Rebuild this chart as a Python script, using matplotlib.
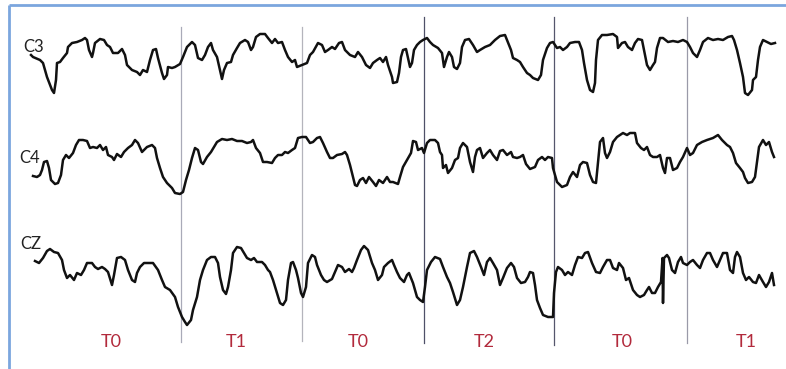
import numpy as np
import matplotlib
matplotlib.use('Agg')
import matplotlib.pyplot as plt

# --- EEG channel traces (time in samples, amplitude in uV, positive up) ---
c3_t = [31, 33, 40, 43, 47, 52, 54, 56, 57, 60, 63, 67, 68, 72, 77, 82, 85, 87, 89, 92,
        93, 95, 100, 104, 107, 110, 113, 118, 122, 125, 127, 132, 137, 140, 143, 147, 150, 153, 156, 158,
        162, 164, 167, 168, 172, 175, 180, 183, 187, 192, 195, 198, 202, 205, 208, 211, 213, 217, 220, 222,
        224, 227, 231, 233, 237, 240, 245, 248, 251, 253, 256, 260, 265, 268, 272, 275, 278, 282, 285, 288,
        292, 295, 297, 302, 307, 310, 313, 318, 322, 325, 328, 332, 335, 339, 342, 345, 350, 355, 358, 362,
        366, 370, 373, 377, 380, 383, 386, 388, 392, 393, 397, 399, 401, 403, 406, 408, 410, 412, 414, 417,
        420, 423, 427, 430, 433, 438, 442, 444, 447, 449, 452, 454, 457, 460, 462, 465, 469, 473, 477, 480,
        485, 490, 495, 500, 505, 507, 511, 513, 517, 520, 523, 527, 530, 533, 538, 541, 543, 547, 550, 553,
        557, 560, 563, 567, 570, 575, 579, 582, 584, 587, 590, 593, 595, 596, 598, 602, 607, 613, 617, 618,
        622, 625, 628, 632, 635, 638, 642, 644, 647, 650, 653, 655, 657, 660, 663, 668, 673, 678, 683, 687,
        690, 693, 697, 700, 703, 708, 713, 718, 723, 728, 732, 734, 737, 740, 743, 745, 748, 752, 753, 756,
        758, 760, 763, 767, 771, 775]
c3_v = [5, 3, 0, -3, -17, -30, -33, -20, -3, -2, 2, 7, 13, 17, 18, 20, 22, 20, 10, 3,
        7, 17, 21, 20, 15, 13, 7, 7, 11, 5, -5, -10, -12, -15, -10, -12, 0, 10, 11, 2,
        -13, -19, -15, -7, -8, -7, -4, 3, 13, 18, 15, 2, 0, 5, 13, 17, 10, 3, -10, -19,
        -10, -3, -2, 5, 12, 17, 20, 18, 10, 13, 23, 26, 26, 22, 17, 21, 17, 18, 10, 3,
        -2, 0, -7, -5, -3, 5, 8, 17, 15, 8, 10, 13, 11, 17, 18, 10, 5, 3, 8, 3,
        -5, -8, -3, 0, 2, -2, 3, -5, -17, -23, -22, -13, 3, 10, 11, 2, -7, -3, 10, 15,
        18, 20, 22, 18, 15, 12, 7, -7, 3, 8, 3, -7, -9, -3, 13, 20, 21, 15, 8, 10,
        13, 15, 20, 24, 25, 20, 10, 2, 0, -2, -7, -13, -15, -18, -20, -15, 0, 12, 17, 18,
        12, 13, 10, 13, 17, 18, 18, 10, -3, -20, -30, -32, -23, 0, 20, 25, 25, 26, 23, 12,
        17, 18, 13, 10, 17, 21, 20, 10, -5, -10, -5, -2, 12, 22, 22, 18, 19, 18, 20, 18,
        13, 7, 3, 10, 18, 22, 20, 21, 20, 23, 24, 20, 10, -3, -17, -33, -35, -30, -20, -17,
        0, 13, 20, 18, 16, 17]

c4_t = [33, 37, 40, 42, 44, 47, 49, 51, 55, 58, 61, 63, 66, 69, 73, 76, 79, 83, 87, 90,
        93, 97, 100, 103, 106, 108, 112, 114, 117, 121, 124, 128, 132, 135, 138, 142, 147, 152, 155, 157,
        160, 163, 167, 172, 175, 180, 183, 186, 189, 192, 195, 198, 201, 203, 207, 211, 214, 217, 222, 227,
        232, 237, 242, 247, 251, 253, 256, 260, 263, 267, 272, 275, 278, 282, 285, 288, 292, 295, 298, 302,
        306, 310, 313, 317, 320, 323, 327, 330, 333, 337, 342, 345, 347, 350, 353, 355, 357, 360, 363, 366,
        369, 373, 376, 379, 383, 387, 390, 393, 398, 400, 403, 407, 411, 413, 416, 418, 422, 424, 427, 430,
        435, 438, 440, 442, 443, 446, 448, 452, 455, 458, 460, 463, 467, 470, 473, 475, 477, 480, 483, 487,
        490, 493, 497, 500, 503, 507, 511, 513, 517, 520, 523, 526, 530, 535, 538, 542, 545, 548, 552, 553,
        557, 562, 567, 570, 573, 577, 580, 583, 587, 590, 593, 596, 598, 600, 603, 605, 607, 610, 613, 617,
        620, 623, 627, 630, 635, 637, 641, 644, 647, 650, 653, 657, 660, 663, 665, 667, 670, 673, 677, 680,
        683, 687, 690, 693, 697, 702, 707, 713, 718, 722, 727, 730, 733, 736, 740, 743, 745, 748, 752, 755,
        757, 759, 763, 766, 769, 772, 774]
c4_v = [-16, -17, -15, -10, -2, -1, -8, -20, -24, -23, -15, 0, 5, 2, 7, 15, 20, 20, 19, 12,
        13, 12, 15, 10, 13, 5, 3, 0, 6, 3, 8, 12, 15, 20, 17, 8, 13, 15, 12, 2,
        -8, -17, -23, -28, -33, -34, -32, -20, -10, 2, 12, 10, -2, -4, 3, 8, 13, 18, 21, 20,
        21, 19, 19, 17, 18, 20, 12, 7, -2, -2, -3, 2, 5, 5, 8, 7, 10, 12, 22, 23,
        23, 17, 18, 22, 23, 17, 8, 2, 2, 5, 6, 8, 5, -5, -17, -25, -26, -20, -18, -23,
        -17, -22, -26, -20, -23, -17, -22, -22, -24, -17, -7, 0, 7, 19, 18, 10, 12, 7, 17, 20,
        20, 17, 8, 5, -8, -5, -13, -8, 0, 2, 12, 17, 13, -2, -12, 3, 10, 12, 2, 7,
        10, 5, 0, 9, 10, 5, 8, 3, 2, 3, 5, -4, -9, -7, 0, 3, 0, 3, 2, -8,
        -22, -27, -25, -17, -12, -17, -5, -2, -3, -15, -22, -23, -3, 18, 22, 7, 2, 8, 18, 23,
        25, 27, 25, 27, 27, 17, 12, 10, 13, 5, 3, 3, 5, -8, -13, 2, 2, -10, -8, -2,
        3, 12, 5, 7, 15, 18, 20, 22, 25, 20, 15, 13, 7, -3, -8, -12, -18, -23, -22, -17,
        -2, 13, 20, 15, 18, 8, 3]

cz_t = [35, 39, 43, 47, 50, 54, 58, 62, 64, 67, 70, 74, 77, 81, 84, 87, 92, 95, 98, 102,
        105, 108, 112, 114, 117, 121, 125, 128, 132, 135, 137, 140, 144, 148, 153, 158, 162, 165, 170, 175,
        178, 182, 185, 187, 191, 193, 197, 200, 203, 207, 211, 215, 218, 220, 223, 226, 228, 231, 233, 237,
        241, 244, 247, 251, 254, 257, 262, 265, 268, 270, 273, 277, 280, 283, 286, 288, 291, 293, 296, 298,
        301, 303, 306, 308, 312, 315, 317, 321, 324, 327, 332, 335, 338, 342, 345, 349, 352, 354, 357, 361,
        364, 368, 372, 375, 378, 382, 384, 388, 392, 394, 397, 400, 404, 407, 409, 413, 417, 420, 423, 425,
        427, 431, 435, 440, 443, 447, 450, 453, 457, 460, 463, 467, 470, 474, 477, 481, 484, 487, 490, 493,
        497, 500, 503, 507, 511, 514, 517, 521, 525, 528, 530, 533, 535, 537, 540, 543, 548, 553, 554, 556,
        558, 562, 565, 568, 572, 575, 578, 582, 585, 588, 592, 596, 600, 603, 607, 610, 613, 617, 619, 623,
        626, 629, 633, 637, 640, 644, 647, 649, 652, 655, 658, 661, 662.5, 663, 664, 667, 669, 672, 675, 678,
        681, 683, 687, 690, 693, 697, 700, 703, 707, 710, 713, 717, 720, 723, 727, 730, 733, 735, 737, 740,
        743, 746, 749, 753, 756, 759, 763, 766, 769, 772, 774]
cz_v = [9, 7, 12, 19, 21, 18, 17, 10, 0, -8, -5, -10, -3, -5, 0, 7, 7, 3, 1, 3,
        1, -2, -15, -5, 12, 13, 10, 0, -10, -12, -3, 3, 7, 7, 7, 0, -10, -17, -20, -27,
        -37, -47, -52, -55, -50, -40, -27, -10, 0, 10, 13, 13, 7, -7, -20, -24, -17, 0, 17, 23,
        22, 17, 12, 10, 12, 8, 8, 5, 0, -2, -10, -23, -33, -35, -30, -10, 7, 8, 0, -8,
        -23, -27, -17, 7, 15, 13, 5, -5, -10, -12, -9, -2, 5, 3, -2, 1, -2, 2, 10, 20,
        24, 20, 7, 0, -10, -5, 3, 7, 10, 5, -2, -8, -12, -5, -3, -13, -27, -30, -32, -17,
        0, 8, 13, 11, 3, -7, -13, -22, -35, -30, -17, 3, 17, 19, 13, 3, -5, 8, 12, 7,
        0, -15, -8, 2, 7, 3, -8, -13, -12, -7, -2, -3, -15, -30, -38, -45, -47, -47, -23, -2,
        3, 0, -5, -2, -5, 5, 13, 12, 17, 18, 7, -2, -3, 3, 10, 10, 2, 0, 7, 2,
        -10, -8, -20, -25, -27, -25, -20, -17, -23, -23, -17, -12, 12, -33, 12, 15, 12, 0, -3, 8,
        13, 7, 5, 8, 10, 5, 2, 10, 17, 17, 10, 3, 10, 17, 17, 0, -3, 13, 18, 13,
        -3, -10, -7, -12, -13, -5, -12, -17, -12, -3, -15]

channels = ['C3', 'C4', 'CZ']
baselines = [60, 160, 270]   # vertical offset of each channel row
label_t = [23, 19, 20]
label_y = [47, 158, 244]

# task segments
boundaries = [181, 302, 424, 554, 687]
boundary_top = [27, 27, 17, 17, 17]
boundary_bottom = [342, 341, 343, 345, 343]
boundary_colors = ['#a9aab8', '#b4b4bc', '#4f5068', '#55566c', '#9a9aa8']
segment_labels = ['T0', 'T1', 'T0', 'T2', 'T0', 'T1']
segment_label_t = [111, 236, 358, 484, 622, 746]

fig = plt.figure(figsize=(7.86, 3.69), dpi=100)
ax = fig.add_axes([0, 0, 1, 1])
ax.set_xlim(0, 786)
ax.set_ylim(369, 0)
ax.axis('off')

# frame (top and left edges only)
ax.plot([9, 786], [5, 5], color='#7ba6de', lw=2.0, solid_capstyle='butt')
ax.plot([9, 9], [5, 369], color='#7ba6de', lw=2.0, solid_capstyle='butt')

for x, y0, y1, c in zip(boundaries, boundary_top, boundary_bottom, boundary_colors):
    ax.plot([x, x], [y0, y1], color=c, lw=0.9)

traces = [(c3_t, c3_v), (c4_t, c4_v), (cz_t, cz_v)]
for (t, v), base in zip(traces, baselines):
    ax.plot(t, base - np.array(v), color='#111111', lw=1.8, solid_joinstyle='round')

for name, x, y in zip(channels, label_t, label_y):
    ax.text(x, y, name, fontsize=12, family='Lato', color='#222222', ha='left', va='center')

for lab, x in zip(segment_labels, segment_label_t):
    ax.text(x, 342, lab, fontsize=13, family='Lato', color='#b22a3c', ha='center', va='center')

fig.savefig('out.png', dpi=100)
